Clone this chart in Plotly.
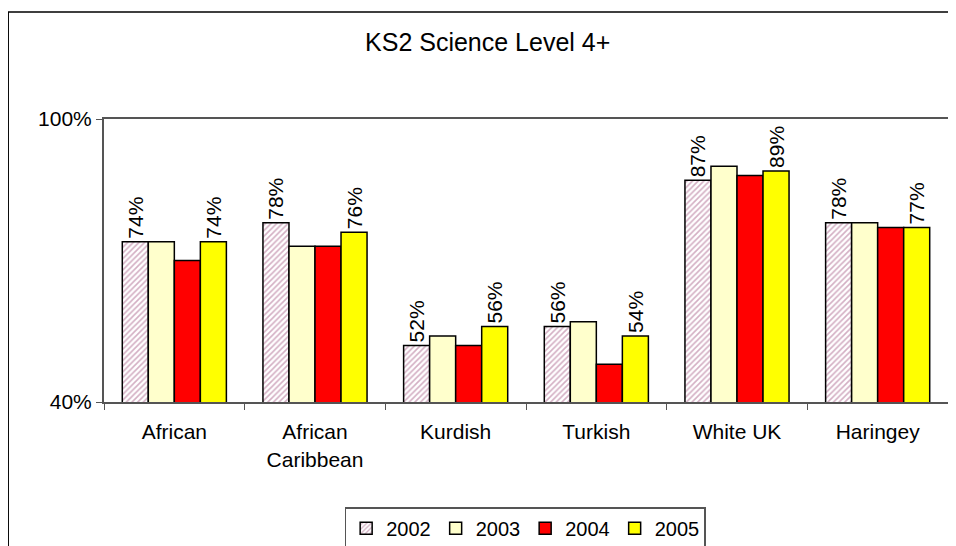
import plotly.graph_objects as go

# data (percent)
groups = ["African", "African<br>Caribbean", "Kurdish", "Turkish", "White UK", "Haringey"]
years = ["2002", "2003", "2004", "2005"]
vals_2002 = [74, 78, 52, 56, 87, 78]
vals_2003 = [74, 73, 54, 57, 90, 78]
vals_2004 = [70, 73, 52, 48, 88, 77]
vals_2005 = [74, 76, 56, 54, 89, 77]
y_ticks = [40, 100]

series = [vals_2002, vals_2003, vals_2004, vals_2005]
colors = ["#ffffff", "#ffffcc", "#ff0000", "#ffff00"]
labelled = {"2002", "2005"}  # only these years carry value labels

fig = go.Figure()
for yr, vals, col in zip(years, series, colors):
    bar = dict(
        x=groups, y=vals, name=yr,
        marker=dict(color=col, line=dict(color="black", width=1.5)),
    )
    if yr == "2002":
        bar["marker"]["pattern"] = dict(shape="/", fgcolor="#a86088",
                                        bgcolor="#ffffff", size=4, solidity=0.4)
    if yr in labelled:
        bar["text"] = [f"{v}%" for v in vals]
        bar["textposition"] = "outside"
        bar["textangle"] = -90
        bar["textfont"] = dict(size=21, color="black")
        bar["cliponaxis"] = False
    fig.add_trace(go.Bar(**bar))

# outer chart frame
fig.add_shape(type="rect", xref="paper", yref="paper",
              x0=-0.1135, x1=1.2, y0=-0.9, y1=1.378,
              line=dict(color="black", width=1.5), fillcolor="rgba(0,0,0,0)")

# page body adds an 8px offset; figure is taller than the window so the
# legend box runs off the bottom edge like in the original
fig.update_layout(
    width=948, height=560,
    margin=dict(l=96, r=6, t=111, b=166),
    paper_bgcolor="white", plot_bgcolor="white",
    font=dict(family="Liberation Sans, Arial, sans-serif", size=21, color="black"),
    title=dict(text="KS2 Science Level 4+", x=0.506, xanchor="center",
               y=0.939, yanchor="middle", font=dict(size=25)),
    barmode="group", bargap=0.26, bargroupgap=0,
    showlegend=True,
    legend=dict(orientation="h", x=0.499, xanchor="center", y=-0.372, yanchor="top",
                bordercolor="#555555", borderwidth=1.5, bgcolor="white",
                font=dict(size=20), itemwidth=30, traceorder="normal"),
    uniformtext=dict(minsize=21, mode="show"),
)
fig.update_xaxes(showline=True, linecolor="#555555", linewidth=2, mirror=True,
                 ticks="outside", ticklen=6, tickcolor="#555555",
                 tickson="boundaries", ticklabelstandoff=10,
                 tickfont=dict(size=21))
fig.update_yaxes(range=[40, 100], tickvals=y_ticks, ticktext=[f"{t}%" for t in y_ticks],
                 showgrid=False, zeroline=False, showline=True, linecolor="#555555",
                 linewidth=2, mirror=True, ticks="outside", ticklen=6,
                 tickcolor="#555555", tickfont=dict(size=21))

fig.write_html("out.html")
